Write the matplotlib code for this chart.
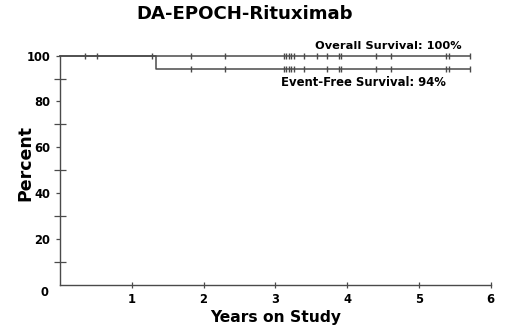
import matplotlib
matplotlib.use("Agg")
import matplotlib.pyplot as plt

plt.rcParams['font.family'] = ['DejaVu Sans']
plt.rcParams['font.weight'] = 'bold'

# ---- data (years on study, percent) ----
os_times = [0.0, 5.709]
os_surv = [100.0, 100.0]
os_censor = [0.349, 0.512, 1.279, 1.827, 2.305, 3.114, 3.148, 3.184, 3.222,
             3.259, 3.393, 3.580, 3.720, 3.881, 3.915, 4.407, 4.612, 5.384,
             5.421, 5.709]

efs_times = [0.0, 1.335, 5.709]
efs_surv = [100.0, 94.1, 94.1]
efs_censor = [1.827, 2.305, 3.114, 3.148, 3.184, 3.222, 3.259, 3.393, 3.720,
              3.881, 3.915, 4.407, 4.612, 5.384, 5.421, 5.709]

x_ticks = [1, 2, 3, 4, 5, 6]
y_major = [20, 40, 60, 80, 100]
y_minor = [10, 30, 50, 70, 90]

title = "DA-EPOCH-Rituximab"
os_label = "Overall Survival: 100%"
efs_label = "Event-Free Survival: 94%"

line_color = "#4a4a4a"

fig = plt.figure(figsize=(5.2, 3.34), dpi=100)
ax = fig.add_axes([0.1154, 0.1482, 0.8282, 0.6850])

ax.step(efs_times, efs_surv, where='post', color=line_color, lw=1.1, clip_on=False)
ax.step(os_times, os_surv, where='post', color=line_color, lw=1.1, clip_on=False)
ax.plot(os_censor, [os_surv[-1]] * len(os_censor), linestyle='none', marker='|',
        markersize=4.5, markeredgewidth=1.0, color=line_color, clip_on=False)
ax.plot(efs_censor, [efs_surv[-1]] * len(efs_censor), linestyle='none', marker='|',
        markersize=4.5, markeredgewidth=1.0, color=line_color, clip_on=False)

ax.set_xlim(0, 6)
ax.set_ylim(0, 100)
for s in ['top', 'right']:
    ax.spines[s].set_visible(False)
for s in ['left', 'bottom']:
    ax.spines[s].set_color(line_color)
    ax.spines[s].set_linewidth(1.0)

ax.set_xticks(x_ticks)
ax.set_xticklabels([str(v) for v in x_ticks], fontsize=8.3, fontweight='bold')
ax.set_yticks(y_major)
ax.set_yticklabels([str(v) for v in y_major], fontsize=8.3, fontweight='bold')
ax.set_yticks(y_minor, minor=True)
ax.tick_params(axis='x', direction='inout', length=4, width=0.9, color=line_color, pad=4.3)
ax.tick_params(axis='y', which='major', direction='out', length=3, width=0.9, color=line_color, pad=4)
ax.tick_params(axis='y', which='minor', direction='inout', length=8, width=0.9, color=line_color)

ax.text(-0.037, -0.037, "0", transform=ax.transAxes, ha='center', va='center',
        fontsize=8.3, fontweight='bold')

ax.set_xlabel("Years on Study", fontsize=11.2, fontweight='bold', va='baseline')
ax.xaxis.set_label_coords(0.5, -0.1626)
ax.set_ylabel("Percent", fontsize=12.5, fontweight='bold', ha='center', va='center')
ax.yaxis.set_label_coords(-0.081, 0.533)
fig.text(0.471, 0.942, title, ha='center', va='baseline', fontsize=13.1, fontweight='bold')

ax.text(0.933, 1.029, os_label, transform=ax.transAxes, ha='right', va='baseline',
        fontsize=8.2, fontweight='bold')
ax.text(0.896, 0.8676, efs_label, transform=ax.transAxes, ha='right', va='baseline',
        fontsize=8.4, fontweight='bold')

fig.savefig("out.png", dpi=100)
